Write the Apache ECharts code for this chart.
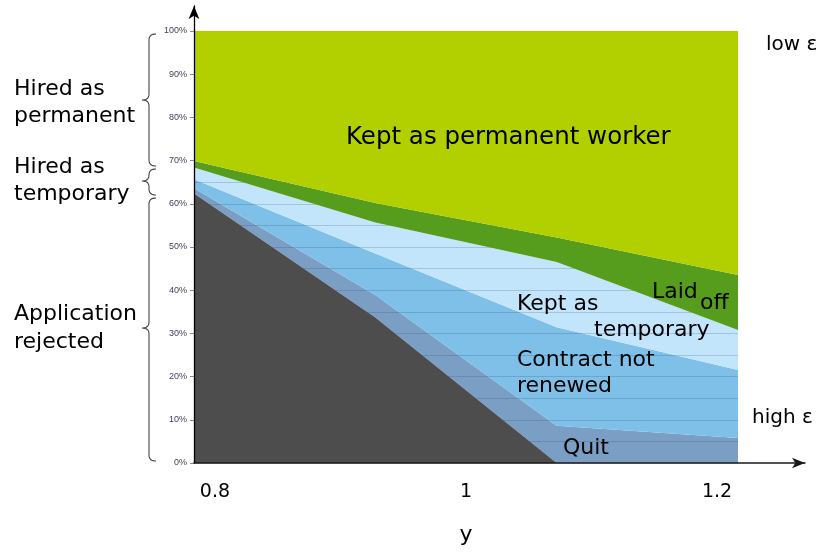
<!DOCTYPE html>
<html>
<head>
<meta charset="utf-8">
<script src="https://cdn.jsdelivr.net/npm/echarts@6/dist/echarts.min.js"></script>
<style>
html,body{margin:0;padding:0;background:#fff;}
#c{width:822px;height:552px;}
</style>
</head>
<body>
<div id="c"></div>
<script>
// x positions of the data points (y on the horizontal axis)
var xValues = ['0.783', '0.928', '1.072', '1.217'];
var xTickLabels = [0.8, 1, 1.2];
// band thickness (% of applicants), bottom to top
var rejected   = [62.4, 33.7, 0, 0];
var quit       = [1.2, 5.2, 8.6, 5.8];
var notRenewed = [2.1, 9.6, 22.8, 15.7];
var keptTemp   = [2.7, 7.2, 15.1, 9.3];
var laidOff    = [1.5, 4.5, 5.7, 12.7];
var keptPerm   = [30.1, 39.8, 47.8, 56.5];

var FONT = 'DejaVu Sans';
var chart = echarts.init(document.getElementById('c'), null, {renderer: 'canvas'});

function band(name, vals, color, z) {
  return {
    name: name, type: 'line', stack: 'all', data: vals,
    xAxisIndex: 0, yAxisIndex: 0,
    showSymbol: false, symbol: 'none',
    lineStyle: {width: 0, opacity: 0},
    areaStyle: {color: color, opacity: 1},
    z: z, animation: false, silent: true
  };
}

// curly brace as a sampled polyline
function quad(p0, p1, p2, out) {
  for (var i = 1; i <= 8; i++) {
    var t = i / 8, a = (1 - t) * (1 - t), b = 2 * (1 - t) * t, c = t * t;
    out.push([a * p0[0] + b * p1[0] + c * p2[0], a * p0[1] + b * p1[1] + c * p2[1]]);
  }
}
function brace(x, y1, y2, ym) {
  var w = 7, r = 6, pts = [[x + w, y1]];
  quad([x + w, y1], [x, y1], [x, y1 + r], pts);
  pts.push([x, ym - r]);
  quad([x, ym - r], [x, ym], [x - w, ym], pts);
  quad([x - w, ym], [x, ym], [x, ym + r], pts);
  pts.push([x, y2 - r]);
  quad([x, y2 - r], [x, y2], [x + w, y2], pts);
  return {type: 'polyline', z: 100, shape: {points: pts}, style: {stroke: '#444', lineWidth: 1.1, fill: null}};
}

function txt(s, x, y, size) {
  size = size || 22;
  return {type: 'text', left: x, top: y - size * 0.42, z: 100,
    style: {text: s, font: size + 'px "' + FONT + '"', fill: '#000'}};
}

var option = {
  animation: false,
  backgroundColor: '#fff',
  grid: [
    {left: 194, top: 31, width: 544, height: 432, containLabel: false, outerBoundsMode: 'none'},
    {left: 194, top: 6, width: 611, height: 457, containLabel: false, outerBoundsMode: 'none'}
  ],
  xAxis: [
    {gridIndex: 0, type: 'category', data: xValues, boundaryGap: false, show: false, position: 'bottom'},
    {gridIndex: 0, type: 'value', min: 0.7833, max: 1.2167, position: 'bottom',
     axisLine: {show: false}, axisTick: {show: false}, splitLine: {show: false},
     axisLabel: {customValues: xTickLabels, margin: 20, fontFamily: FONT, fontSize: 19, color: '#000'},
     name: 'y', nameLocation: 'middle', nameGap: 61,
     nameTextStyle: {fontFamily: FONT, fontSize: 22, color: '#000'}},
    {gridIndex: 1, type: 'value', min: 0, max: 1, z: 10, position: 'bottom',
     axisLine: {show: true, symbol: ['none', 'arrow'], symbolSize: [8, 13], lineStyle: {color: '#1a1a1a', width: 1.5}},
     axisTick: {show: false}, axisLabel: {show: false}, splitLine: {show: false}}
  ],
  yAxis: [
    {gridIndex: 0, type: 'value', min: 0, max: 100, interval: 10, position: 'left',
     axisLine: {show: false},
     axisTick: {show: true, length: 4, lineStyle: {color: '#8c8c8c'}},
     axisLabel: {formatter: '{value}%', margin: 7, fontFamily: 'Liberation Sans', fontSize: 9, color: '#3f3f5c'},
     splitLine: {show: false}},
    {gridIndex: 0, type: 'value', min: 0, max: 100, interval: 5, z: 3, position: 'left',
     axisLine: {show: false}, axisTick: {show: false}, axisLabel: {show: false},
     splitLine: {show: true, lineStyle: {color: 'rgba(30,60,100,0.2)', width: 1}}},
    {gridIndex: 1, type: 'value', min: 0, max: 1, z: 10, position: 'left',
     axisLine: {show: true, symbol: ['none', 'arrow'], symbolSize: [8, 13], lineStyle: {color: '#000', width: 1.3}},
     axisTick: {show: false}, axisLabel: {show: false}, splitLine: {show: false}}
  ],
  series: [
    band('Application rejected', rejected, '#4d4d4d', 5),
    band('Quit', quit, '#7b9fc4', 2),
    band('Contract not renewed', notRenewed, '#7ec0e8', 2),
    band('Kept as temporary', keptTemp, '#c3e5fb', 2),
    band('Laid off', laidOff, '#569c1d', 5),
    band('Kept as permanent worker', keptPerm, '#b2d000', 5)
  ],
  graphic: [
    brace(149, 34, 166, 100),
    brace(149, 169, 195, 181),
    brace(149, 198, 461, 328),
    txt('Hired as', 14, 88), txt('permanent', 14, 115),
    txt('Hired as', 14, 166), txt('temporary', 14, 193),
    txt('Application', 14, 313), txt('rejected', 14, 341),
    txt('Kept as permanent worker', 346, 135, 24.5),
    txt('low \u03b5', 766, 43, 20), txt('high \u03b5', 752, 416, 20),
    txt('Laid', 652, 291), txt('off', 700, 302),
    txt('Kept as', 517, 303), txt('temporary', 594, 329),
    txt('Contract not', 517, 359), txt('renewed', 517, 385),
    txt('Quit', 563, 447)
  ]
};
chart.setOption(option);
</script>
</body>
</html>
